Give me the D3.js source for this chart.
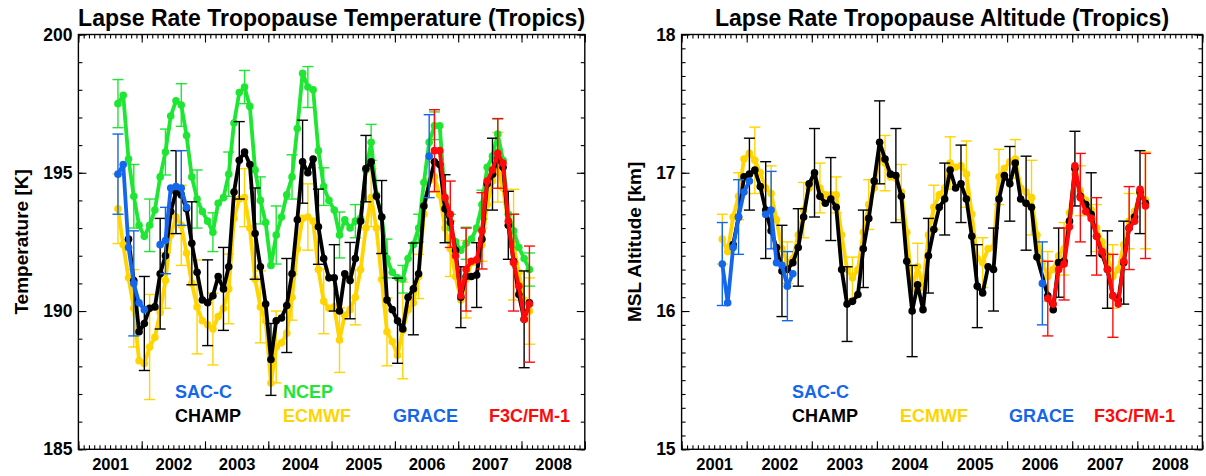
<!DOCTYPE html>
<html>
<head>
<meta charset="utf-8">
<script src="https://cdn.jsdelivr.net/npm/d3@7"></script>
<style>
  body { margin: 0; background: #fff; }
  text { font-family: "Liberation Sans", Arial, sans-serif; font-weight: bold; }
</style>
</head>
<body>
<div class="container"></div>
<script>
var width = 1206,
    height = 476;

// month index: 0 = Jan 2001; points sit mid-month. Error bars every 3rd month.
// ---------- Temperature [K] ----------
var ncepT = [197.5, 197.8, 195.5, 194.15, 193.1, 192.7, 193.1, 193.65, 194.85, 195.75,
  197.05, 197.6, 197.45, 196.35, 194.85, 194.05, 193.6, 193.25, 192.85, 193.9,
  194.1, 194.95, 196.8, 197.9, 198.1, 197.4, 195.1, 194.0, 193.2, 191.65,
  192.75, 193.4, 194.2, 194.85, 196.6, 198.6, 198.1, 198.0, 195.8, 194.5,
  194.0, 193.65, 192.75, 193.3, 193.0, 193.25, 193.35, 195.1, 196.1, 194.2,
  193.4, 191.9, 191.4, 191.2, 191.15, 191.9, 192.4, 193.0, 194.65, 196.1,
  196.7, 196.7, 194.0, 193.0, 192.5, 192.2, 192.45, 192.6, 193.0, 193.85,
  195.2, 195.6, 196.4, 195.45, 193.5, 192.9, 192.3, 191.9, 191.5];
var ncepTErr = [0.87, 1.15, 0.95, 0.83, 0.77, 1.05, 0.7, 0.8, 0.6, 0.85, 1.05, 0.8, 0.74, 0.68,
  0.83, 0.6, 0.65, 0.7, 0.5, 0.5, 0.5, 0.5, 0.58, 0.52, 0.55, 0.6, 0.6];

var ecmwfT = [193.7, 192.4, 191.2, 190.1, 188.2, 188.1, 188.7, 189.05, 189.95, 191.1,
  192.75, 193.4, 193.1, 192.1, 191.0, 190.15, 189.65, 189.5, 189.35, 189.8,
  190.1, 190.8, 193.35, 194.05, 194.1, 193.0, 191.15, 190.15, 189.65, 187.4,
  188.7, 188.85, 189.2, 190.5, 192.25, 193.35, 193.4, 193.25, 191.5, 190.35,
  190.1, 190.15, 188.95, 189.85, 190.05, 190.5, 191.5, 193.0, 194.1, 193.0,
  191.15, 189.25, 188.9, 188.4, 189.3, 190.05, 190.3, 191.25, 193.5, 194.7,
  194.85, 194.2, 193.0, 192.25, 191.25, 190.4, 191.15, 191.75, 191.75, 192.4,
  193.85, 194.7, 195.2, 194.45, 193.1, 192.4, 191.4, 190.4, 190.0];
var ecmwfTErr = [1.26, 1.4, 1.9, 1.0, 1.45, 1.7, 1.3, 1.26, 1.05, 1.3, 1.3, 0.83, 1.2, 1.17,
  1.17, 1.0, 1.05, 1.23, 1.75, 0.8, 0.55, 1.0, 1.4, 0.6, 1.26, 2.0, 1.2];

var champT = [192.6, 191.1, 189.25, 189.55, 190.1, 190.15, 191.35, 192.0,
  193.6, 194.3, 194.2, 193.7, 192.45, 191.4, 190.4, 190.3, 190.55, 191.25,
  190.8, 191.6, 194.3, 195.45, 195.75, 195.3, 192.8, 191.6, 190.25, 188.25,
  189.65, 189.75, 190.2, 191.35, 193.3, 195.4, 195.0, 195.5, 193.05, 191.9,
  191.2, 191.2, 190.0, 191.35, 191.1, 191.9, 193.25, 195.15, 195.4, 194.15,
  193.4, 190.4, 190.05, 189.65, 189.35, 190.5, 190.8, 191.35, 193.8, null,
  195.4, 195.3, 193.7, 193.2, 192.2, 190.5, 191.25, 191.25, 191.3, 192.6,
  194.6, 194.95, 195.5, 195.2, 193.1, 191.8, 190.6, 189.7, 190.3];
var champTErr = [1.7, 2.0, 1.5, 1.5, 1.55, 1.5, 1.4, 1.65, 1.3, 1.7, 1.5, 1.36, 1.2, 1.38,
  1.2, 1.32, 1.54, 1.66, 1.38, 1.23, 1.1, 1.17, 1.3, 1.23, 1.75, 2.0];

var saccT = [194.95, 195.3, 192.3, 191.0, 190.3, 190.05, null, null, 192.4, 192.55, 194.45, 194.5, 194.45, 193.75];
var saccTErr = [1.45, 1.9, null, 1.2, 1.35];

var graceT = [195.6];
var graceTErr = [1.5];

var f3cT = [195.8, 195.8, 194.1, 193.5, 192.0, 190.55, 191.5, 191.8, 191.85, 192.9,
  194.7, 195.1, 195.7, 195.35, 193.25, 191.75, 190.9, 189.7, 190.25];
var f3cTErr = [1.48, 1.2, 1.5, 1.38, 1.26, 1.75, 2.1];

// ---------- Altitude [km] ----------
var ecmwfZ = [16.52, 16.43, 16.68, 16.83, 17.10, 17.14, 17.09, 17.00, 16.89, 16.85,
  16.66, 16.45, 16.35, 16.38, 16.55, 16.73, 16.89, 16.98, 16.89, 16.84,
  16.84, 16.84, 16.55, 16.30, 16.24, 16.30, 16.57, 16.77, 16.89, 17.11,
  17.07, 16.97, 16.96, 16.86, 16.57, 16.16, 16.32, 16.18, 16.55, 16.75,
  16.84, 16.89, 17.07, 17.04, 17.05, 16.99, 16.70, 16.38, 16.35, 16.45,
  16.46, 16.97, 17.03, 17.08, 17.10, 16.89, 16.86, 16.82, 16.55, 16.35,
  16.25, 16.30, 16.40, 16.45, 16.71, 16.99, 16.87, 16.80, 16.73, 16.60,
  16.50, 16.40, 16.25, 16.30, 16.48, 16.65, 16.72, 16.85, 16.80];
var ecmwfZErr = [0.18, 0.17, 0.24, 0.2, 0.15, 0.2, 0.18, 0.13, 0.15, 0.18, 0.2, 0.2, 0.17, 0.16,
  0.19, 0.24, 0.18, 0.2, 0.14, 0.27, 0.18, 0.19, 0.18, 0.17, 0.23, 0.2, 0.35];

var champZ = [16.48, 16.68, 16.97, 16.99, 17.02, 16.90, 16.73, 16.58,
  16.46, 16.29, 16.30, 16.35, 16.46, 16.68, 16.92, 17.00, 16.83, 16.78,
  16.81, 16.75, 16.30, 16.05, 16.07, 16.12, 16.45, 16.67, 16.94, 17.22,
  17.10, 16.99, 16.98, 16.83, 16.36, 16.00, 16.19, 16.01, 16.40, 16.59,
  16.75, 16.81, 17.02, 16.89, 16.92, 16.81, 16.54, 16.18, 16.13, 16.32,
  16.30, 16.81, 16.98, 16.92, 17.07, 16.81, 16.78, 16.75, 16.39, null,
  16.11, 16.01, 16.35, 16.36, 16.65, 17.03, 16.83, 16.77, 16.70, 16.54,
  16.41, 16.30, 16.11, 16.08, 16.35, 16.60, 16.68, 16.86, 16.78];
var champZErr = [0.26, 0.35, 0.33, 0.28, 0.32, 0.3, 0.27, 0.28, 0.3, 0.34, 0.33, 0.27, 0.26,
  0.28, 0.3, 0.3, 0.27, 0.34, 0.3, 0.25, 0.27, 0.3, 0.28, 0.3, 0.3, 0.35];

var saccZ = [16.34, 16.06, 16.46, 16.68, 16.86, 16.94, null, null, 16.70, 16.73, 16.35, 16.33, 16.18, 16.27];
var saccZErr = [0.3, 0.27, null, 0.28, 0.25];

var graceZ = [16.20];
var graceZErr = [0.30];

var f3cZ = [16.09, 16.05, 16.30, 16.34, 16.61, 17.05, 16.82, 16.72, 16.67, 16.54,
  16.43, 16.30, 16.11, 16.05, 16.36, 16.60, 16.65, 16.88, 16.76];
var f3cZErr = [0.27, 0.26, 0.32, 0.28, 0.3, 0.3, 0.38];

var yearLabels = [2001, 2002, 2003, 2004, 2005, 2006, 2007, 2008];

var GOLD = "#ffd400", GREEN = "#1ee632", BLUE = "#1466ea", RED = "#ff0a0a", BLACK = "#000";

var svg = d3.select(".container").append("svg")
    .attr("width", width)
    .attr("height", height)
    .style("display", "block");

svg.append("rect").attr("width", width).attr("height", height).attr("fill", "#fff");

// joinGaps connects over missing months instead of breaking the line
function series(name, color, start, values, errors, joinGaps) {
  return { name: name, color: color, start: start, values: values, errors: errors, joinGaps: !!joinGaps };
}

function tickAxis(axis, vals, size) {
  return axis.tickValues(vals).tickSize(-size).tickFormat("");
}

function drawPanel(opt) {
  var g = svg.append("g");
  var x = d3.scaleLinear().domain([2001, 2009]).range([opt.left, opt.right]);
  var y = d3.scaleLinear().domain(opt.yDomain).range([opt.bottom, opt.top]);

  var monthTicks = d3.range(0, 97).map(function(m) { return 2001 + m / 12; });
  var yearTicks = d3.range(2001, 2010);
  var xm = function(i) { return x(2001 + (i + 0.5) / 12); };

  // ----- data -----
  var line = d3.line()
      .defined(function(d) { return d.v != null; })
      .x(function(d) { return xm(d.i); })
      .y(function(d) { return y(d.v); });

  opt.series.forEach(function(s) {
    var pts = s.values.map(function(v, k) { return { i: s.start + k, v: v }; });
    var linePts = s.joinGaps ? pts.filter(function(d) { return d.v != null; }) : pts;
    var sg = g.append("g");

    sg.append("path")
      .datum(linePts)
      .attr("d", line)
      .attr("fill", "none")
      .attr("stroke", s.color)
      .attr("stroke-width", 3.8)
      .attr("stroke-linejoin", "round");

    sg.selectAll("circle")
      .data(pts.filter(function(d) { return d.v != null; }))
      .enter().append("circle")
      .attr("cx", function(d) { return xm(d.i); })
      .attr("cy", function(d) { return y(d.v); })
      .attr("r", 3.8)
      .attr("fill", s.color);

    // error bars at every third month starting from the first one
    var errs = s.errors.map(function(e, k) {
      var i = s.start + 3 * k;
      return { i: i, v: s.values[i - s.start], e: e };
    }).filter(function(d) { return d.e != null && d.v != null; });

    var eb = sg.selectAll(".err").data(errs).enter().append("g")
      .attr("class", "err")
      .attr("stroke", s.color)
      .attr("stroke-width", 1.4);
    eb.append("line")
      .attr("x1", function(d) { return xm(d.i); })
      .attr("x2", function(d) { return xm(d.i); })
      .attr("y1", function(d) { return y(d.v - d.e); })
      .attr("y2", function(d) { return y(d.v + d.e); });
    [-1, 1].forEach(function(sgn) {
      eb.append("line")
        .attr("x1", function(d) { return xm(d.i) - 5.5; })
        .attr("x2", function(d) { return xm(d.i) + 5.5; })
        .attr("y1", function(d) { return y(d.v + sgn * d.e); })
        .attr("y2", function(d) { return y(d.v + sgn * d.e); });
    });
  });

  // ----- frame + mirrored ticks -----
  var axes = g.append("g").attr("class", "ticks");
  axes.append("g").attr("transform", "translate(0," + opt.bottom + ")").call(tickAxis(d3.axisBottom(x), monthTicks, 4));
  axes.append("g").attr("transform", "translate(0," + opt.bottom + ")").call(tickAxis(d3.axisBottom(x), yearTicks, 8));
  axes.append("g").attr("transform", "translate(0," + opt.top + ")").call(tickAxis(d3.axisTop(x), monthTicks, 4));
  axes.append("g").attr("transform", "translate(0," + opt.top + ")").call(tickAxis(d3.axisTop(x), yearTicks, 8));
  axes.append("g").attr("transform", "translate(" + opt.left + ",0)").call(tickAxis(d3.axisLeft(y), opt.yMinor, 4));
  axes.append("g").attr("transform", "translate(" + opt.left + ",0)").call(tickAxis(d3.axisLeft(y), opt.yMajor, 8));
  axes.append("g").attr("transform", "translate(" + opt.right + ",0)").call(tickAxis(d3.axisRight(y), opt.yMinor, 4));
  axes.append("g").attr("transform", "translate(" + opt.right + ",0)").call(tickAxis(d3.axisRight(y), opt.yMajor, 8));
  axes.selectAll(".domain").remove();
  axes.selectAll("line").attr("stroke", "#000").attr("stroke-width", 1.1);

  g.append("rect")
    .attr("x", opt.left).attr("y", opt.top)
    .attr("width", opt.right - opt.left).attr("height", opt.bottom - opt.top)
    .attr("fill", "none").attr("stroke", "#000").attr("stroke-width", 1.4);

  // year labels centred on each year
  var xl = g.append("g")
    .attr("transform", "translate(0," + opt.bottom + ")")
    .call(d3.axisBottom(x)
      .tickValues(yearLabels.map(function(yr) { return yr + 0.5; }))
      .tickSize(0).tickPadding(9)
      .tickFormat(function(d) { return Math.floor(d); }));
  xl.select(".domain").remove();
  xl.attr("font-size", 16.5).selectAll("text").attr("fill", "#000");

  var yl = g.append("g")
    .attr("transform", "translate(" + opt.left + ",0)")
    .call(d3.axisLeft(y).tickValues(opt.yMajor).tickSize(0).tickPadding(6).tickFormat(d3.format("d")));
  yl.select(".domain").remove();
  yl.attr("font-size", 17.5).selectAll("text").attr("fill", "#000");

  // titles
  g.append("text")
    .attr("x", (opt.left + opt.right) / 2)
    .attr("y", 26)
    .attr("text-anchor", "middle")
    .attr("font-size", 23)
    .text(opt.title);

  g.append("text")
    .attr("transform", "translate(" + opt.yTitleX + "," + (opt.top + opt.bottom) / 2 + ") rotate(-90)")
    .attr("text-anchor", "middle")
    .attr("font-size", 19)
    .text(opt.yTitle);

  // legend
  opt.legend.forEach(function(l) {
    g.append("text")
      .attr("x", l[2]).attr("y", l[3])
      .attr("font-size", 18)
      .attr("fill", l[1])
      .text(l[0]);
  });
}

drawPanel({
  left: 78.4, right: 584.8, top: 34.5, bottom: 449.3,
  yDomain: [185, 200],
  yMajor: [185, 190, 195, 200],
  yMinor: d3.range(185, 201, 1),
  title: "Lapse Rate Tropopause Temperature (Tropics)",
  yTitle: "Temperature [K]",
  yTitleX: 28,
  series: [
    series("ECMWF", GOLD, 7, ecmwfT, ecmwfTErr),
    series("NCEP", GREEN, 7, ncepT, ncepTErr),
    series("CHAMP", BLACK, 9, champT, [null].concat(champTErr), true),
    series("SAC-C", BLUE, 7, saccT, saccTErr),
    series("GRACE", BLUE, 66, graceT, graceTErr),
    series("F3C/FM-1", RED, 67, f3cT, f3cTErr)
  ],
  legend: [
    ["SAC-C", BLUE, 175, 398], ["CHAMP", BLACK, 175, 422],
    ["NCEP", GREEN, 283, 398], ["ECMWF", GOLD, 283, 422],
    ["GRACE", BLUE, 393, 422], ["F3C/FM-1", RED, 489, 422]
  ]
});

drawPanel({
  left: 681.6, right: 1202.4, top: 34.5, bottom: 449.3,
  yDomain: [15, 18],
  yMajor: [15, 16, 17, 18],
  yMinor: d3.range(0, 31).map(function(k) { return 15 + k / 10; }),
  title: "Lapse Rate Tropopause Altitude (Tropics)",
  yTitle: "MSL Altitude [km]",
  yTitleX: 641,
  series: [
    series("ECMWF", GOLD, 7, ecmwfZ, ecmwfZErr),
    series("CHAMP", BLACK, 9, champZ, [null].concat(champZErr), true),
    series("SAC-C", BLUE, 7, saccZ, saccZErr),
    series("GRACE", BLUE, 66, graceZ, graceZErr),
    series("F3C/FM-1", RED, 67, f3cZ, f3cZErr)
  ],
  legend: [
    ["SAC-C", BLUE, 792, 398], ["CHAMP", BLACK, 792, 422],
    ["ECMWF", GOLD, 900, 422],
    ["GRACE", BLUE, 1009, 422], ["F3C/FM-1", RED, 1094, 422]
  ]
});
</script>
</body>
</html>
